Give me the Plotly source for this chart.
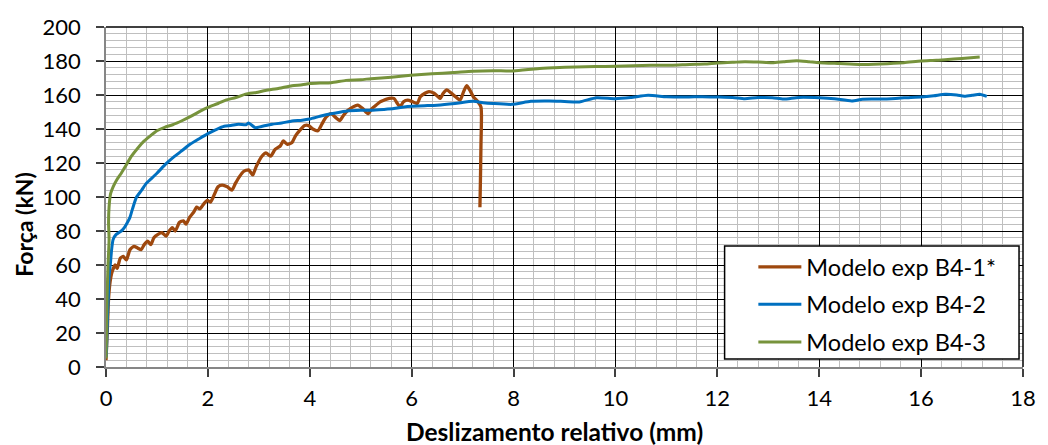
import plotly.graph_objects as go

# ---------------- data ----------------
b41_x = [0.0, 0.03, 0.05, 0.08, 0.12, 0.18, 0.22, 0.28, 0.34, 0.40, 0.47, 0.55, 0.62, 0.69, 0.75, 0.82,
         0.88, 0.94, 1.02, 1.10, 1.18, 1.24, 1.30, 1.36, 1.44, 1.52, 1.57, 1.64, 1.72, 1.78, 1.84, 1.92,
         1.99, 2.05, 2.12, 2.20, 2.28, 2.38, 2.47, 2.54, 2.62, 2.70, 2.80, 2.88, 2.95, 3.06, 3.14, 3.23,
         3.32, 3.42, 3.48, 3.56, 3.65, 3.72, 3.80, 3.90, 3.98, 4.06, 4.16, 4.24, 4.32, 4.42, 4.50, 4.59,
         4.66, 4.75, 4.85, 4.94, 5.04, 5.14, 5.22, 5.30, 5.38, 5.46, 5.56, 5.65, 5.72, 5.77, 5.84, 5.92,
         6.02, 6.11, 6.17, 6.26, 6.34, 6.44, 6.52, 6.56, 6.62, 6.69, 6.78, 6.86, 6.95, 7.02, 7.08, 7.14,
         7.21, 7.30, 7.36, 7.37, 7.36, 7.35, 7.34]
b41_y = [4, 25, 40, 50, 56, 60, 58, 64, 65, 63, 69, 71, 70, 69, 72, 74,
         72, 76, 78, 79, 77, 80, 82, 80, 85, 86, 84, 88, 91, 94, 93, 96,
         98, 97, 101, 106, 107, 106, 104, 108, 112, 115, 116, 113, 118, 124, 126, 124,
         128, 130, 133, 131, 132, 136, 139, 142, 142, 140, 139, 143, 147, 149, 147, 145,
         148, 151, 153, 154, 152, 149, 152, 154, 156, 157, 158, 158, 155, 153, 156, 157,
         156, 155, 159, 161, 162, 161, 159, 158, 161, 163, 161, 159, 157, 162, 165.5, 163,
         159, 156, 153, 148, 130, 110, 94]

b42_x = [0.0, 0.01, 0.02, 0.03, 0.05, 0.06, 0.09, 0.11, 0.14, 0.20, 0.30, 0.36, 0.42, 0.47, 0.52, 0.60,
         0.70, 0.79, 0.86, 1.00, 1.18, 1.35, 1.50, 1.65, 1.83, 2.00, 2.15, 2.32, 2.45, 2.60, 2.75, 2.80,
         2.93, 3.05, 3.26, 3.45, 3.65, 3.85, 4.00, 4.20, 4.42, 4.71, 5.00, 5.20, 5.45, 5.65, 5.85, 6.02,
         6.25, 6.50, 6.85, 7.21, 7.40, 7.60, 7.97, 8.34, 8.70, 9.00, 9.29, 9.63, 10.0, 10.3, 10.64, 11.0,
         11.39, 11.7, 12.0, 12.3, 12.54, 12.8, 13.08, 13.3, 13.6, 14.0, 14.3, 14.64, 14.85, 15.12, 15.5,
         15.8, 16.0, 16.25, 16.47, 16.7, 16.85, 17.0, 17.15, 17.29]
b42_y = [6, 10, 20, 30, 45, 53, 62, 69, 75, 78, 80, 82, 85, 88, 93, 100,
         104, 108, 110, 114, 119.6, 124, 127.5, 131, 134.3, 137.3, 139.5, 141.6, 142, 142.8, 142.5, 143.5,
         140.8, 141.5, 142.8, 143.5, 144.7, 145.2, 145.9, 147.5, 149, 150.5, 151, 151, 151.5, 152, 153, 153.4,
         153.7, 154, 155, 156.3, 155.5, 155, 154.5, 156.3, 156.5, 156.2, 155.9, 158.4, 157.8, 158.5, 159.8, 159,
         158.8, 159, 158.8, 158.5, 157.8, 158.5, 158.4, 157.6, 158.6, 158.4, 157.8, 156.5, 157.5, 157.6, 158,
         158.6, 158.8, 159.5, 160.4, 160, 159.3, 159.8, 160.5, 159.2]

b43_x = [0.0, 0.01, 0.02, 0.04, 0.06, 0.05, 0.06, 0.09, 0.14, 0.21, 0.30, 0.40, 0.50, 0.63, 0.75, 0.87,
         1.00, 1.15, 1.31, 1.50, 1.70, 1.85, 2.00, 2.20, 2.35, 2.55, 2.74, 2.95, 3.13, 3.40, 3.65, 3.85,
         4.00, 4.20, 4.42, 4.71, 5.00, 5.20, 5.60, 5.98, 6.40, 6.82, 7.20, 7.60, 8.00, 8.47, 8.80, 9.22,
         9.60, 10.0, 10.35, 10.7, 11.1, 11.46, 11.75, 12.0, 12.3, 12.54, 12.8, 13.08, 13.3, 13.56, 13.8,
         14.0, 14.4, 14.78, 15.2, 15.66, 16.0, 16.3, 16.47, 16.8, 17.15]
b43_y = [5, 20, 40, 60, 75, 85, 94, 102, 106, 110, 114, 119, 124, 129, 133, 136,
         139, 141, 142.5, 145, 148, 150.5, 152.7, 155, 157, 158.5, 160.5, 161.5, 162.7, 164, 165.5, 166,
         166.7, 167, 167.2, 168.6, 169, 169.6, 170.5, 171.6, 172.5, 173.2, 174, 174.3, 174.1, 175.5, 176, 176.5,
         176.7, 176.9, 177.2, 177.5, 177.5, 178, 178.2, 178.8, 179.2, 179.6, 179.4, 179, 179.6, 180.2, 179.6,
         179, 178.5, 178, 178.3, 179, 180, 180.4, 180.8, 181.5, 182.4]

series_names = ["Modelo exp B4-1*", "Modelo exp B4-2", "Modelo exp B4-3"]
series_colors = ["#9E480E", "#0070C0", "#77933C"]

x_ticks = [0, 2, 4, 6, 8, 10, 12, 14, 16, 18]
y_ticks = [0, 20, 40, 60, 80, 100, 120, 140, 160, 180, 200]

FONT = "Lato, 'Open Sans', sans-serif"

PL, PR, PT, PB = 106, 1031, 27, 367          # plot area in window pixels
W, H = 1048, 445
PW, PH = PR - PL, PB - PT


def px(xp):
    return (xp - PL) / PW


def py(yp):
    return (PB - yp) / PH


fig = go.Figure()
for xs, ys, name, col, w in zip([b41_x, b42_x, b43_x], [b41_y, b42_y, b43_y],
                                series_names, series_colors, [3.3, 3.0, 3.0]):
    fig.add_trace(go.Scatter(x=xs, y=ys, mode="lines", name=name, legendgroup=name,
                             line=dict(color=col, width=w, shape="spline", smoothing=0.6)))

axis_common = dict(
    showline=True, linecolor="#868686", linewidth=1.5,
    ticks="outside", ticklen=8, tickcolor="#404040", tickwidth=1.5,
    showgrid=True, gridcolor="#000000", gridwidth=1.3,
    zeroline=False,
    tickfont=dict(family=FONT, size=22, color="#000000"),
)

fig.update_xaxes(range=[0, 18], tickvals=x_ticks, ticklabelstandoff=3,
                 minor=dict(dtick=0.4, tick0=0, showgrid=True, gridcolor="#BFBFBF", gridwidth=1.3),
                 **axis_common)
fig.update_yaxes(range=[0, 200], tickvals=y_ticks, ticklabelstandoff=11,
                 minor=dict(dtick=4, tick0=0, showgrid=True, gridcolor="#BFBFBF", gridwidth=1.3),
                 **axis_common)

# frame (top/right) and legend box
fig.add_shape(type="line", xref="paper", yref="paper", x0=0, x1=1, y0=1, y1=1,
              line=dict(color="#000000", width=1.5), layer="above")
fig.add_shape(type="line", xref="paper", yref="paper", x0=1, x1=1, y0=0, y1=1,
              line=dict(color="#000000", width=1.5), layer="above")
fig.add_shape(type="rect", xref="paper", yref="paper", x0=px(730), x1=px(1027), y0=py(359), y1=py(246),
              fillcolor="#FFFFFF", line=dict(color="#000000", width=1.5), layer="above")

fig.add_annotation(text="<b>Deslizamento relativo (mm)</b>", xref="paper", yref="paper",
                   x=px(558), y=py(431), showarrow=False,
                   font=dict(family=FONT, size=24.5, color="#000000"),
                   xanchor="center", yanchor="middle")
fig.add_annotation(text="<b>Força (kN)</b>", xref="paper", yref="paper",
                   x=px(23), y=py(225), showarrow=False, textangle=-90,
                   font=dict(family=FONT, size=23, color="#000000"),
                   xanchor="center", yanchor="middle")

fig.update_layout(
    width=W, height=H, autosize=False,
    margin=dict(l=PL, r=W - PR, t=PT, b=H - PB),
    paper_bgcolor="#FFFFFF", plot_bgcolor="#FFFFFF",
    showlegend=True,
    legend=dict(x=px(759), y=py(245), xanchor="left", yanchor="top",
                bgcolor="rgba(0,0,0,0)", borderwidth=0,
                font=dict(family=FONT, size=23.5, color="#000000"),
                itemwidth=43, traceorder="grouped", tracegroupgap=4),
)

# remove the browser's default 8 px body margin so the figure sits at the window origin
fig.write_html("out.html",
               config={"displayModeBar": False},
               post_script="document.body.style.margin='0';document.body.style.overflow='hidden';")
